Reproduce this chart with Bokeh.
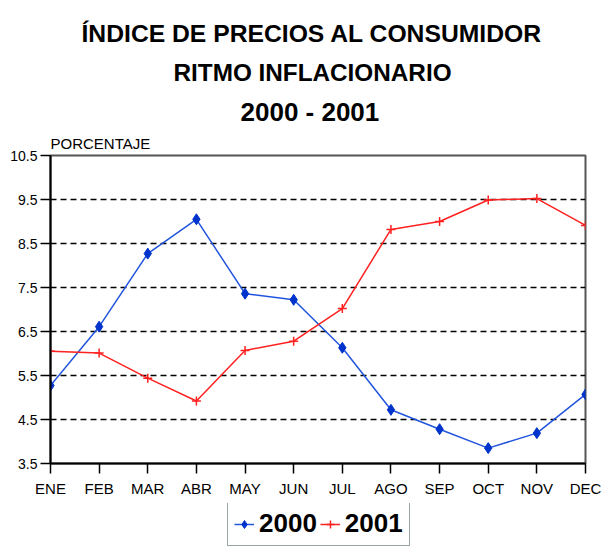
from bokeh.plotting import figure
from bokeh.layouts import column
from bokeh.models import Range1d, FixedTicker, Legend, LegendItem, Title
from bokeh.embed import file_html
from bokeh.resources import INLINE

months = ["ENE", "FEB", "MAR", "ABR", "MAY", "JUN", "JUL", "AGO", "SEP", "OCT", "NOV", "DEC"]
serie_2000 = [5.27, 6.61, 8.27, 9.05, 7.36, 7.22, 6.13, 4.72, 4.28, 3.85, 4.19, 5.07]
serie_2001 = [6.05, 6.01, 5.44, 4.92, 6.07, 6.28, 7.02, 8.82, 9.00, 9.49, 9.52, 8.91]
y_ticks = [3.5, 4.5, 5.5, 6.5, 7.5, 8.5, 9.5, 10.5]
title_lines = ["ÍNDICE DE PRECIOS AL CONSUMIDOR", "RITMO INFLACIONARIO", "2000 - 2001"]
y_label = "PORCENTAJE"
series_names = ["2000", "2001"]

FONT = "Liberation Sans, Arial, sans-serif"
xs = list(range(len(months)))
blue = "#2255dd"
blue_mk = "#0033cc"
red = "#ff2020"

p = figure(width=605, height=503, output_backend="svg", toolbar_location=None,
           x_range=Range1d(0, 11), y_range=Range1d(3.5, 10.5),
           min_border_left=50, min_border_right=20, min_border_top=155, min_border_bottom=40)
p.background_fill_color = "white"
p.border_fill_color = "white"
p.outline_line_color = "#555555"
p.outline_line_width = 2

# axes
p.xaxis.ticker = FixedTicker(ticks=xs)
p.xaxis.major_label_overrides = {i: m for i, m in enumerate(months)}
p.yaxis.ticker = FixedTicker(ticks=y_ticks)
p.yaxis.major_label_overrides = {t: f"{t:.1f}" for t in y_ticks}
for ax in (p.xaxis, p.yaxis):
    ax.axis_line_color = "black"
    ax.axis_line_width = 2
    ax.major_tick_line_color = "black"
    ax.major_tick_line_width = 1.5
    ax.major_tick_in = 0
    ax.major_tick_out = 10
    ax.minor_tick_line_color = None
    ax.major_label_text_color = "black"
    ax.major_label_text_font = FONT
p.xaxis.major_label_text_font_size = "15px"
p.xaxis.major_label_standoff = 6
p.yaxis.major_label_text_font_size = "14px"
p.yaxis.major_label_standoff = 3

p.xgrid.visible = False
p.ygrid.ticker = FixedTicker(ticks=y_ticks[1:-1])
p.ygrid.grid_line_color = "black"
p.ygrid.grid_line_width = 1.5
p.ygrid.grid_line_dash = "6 4"

p.line(xs, serie_2000, line_color=blue, line_width=1.5)
p.scatter(xs, serie_2000, marker="diamond", size=11, fill_color=blue_mk, line_color=blue_mk)
p.line(xs, serie_2001, line_color=red, line_width=1.5)
p.scatter(xs, serie_2001, marker="cross", size=9, line_color=red, line_width=1.5)

# titles (nearest to the frame first)
p.add_layout(Title(text=y_label, align="left", text_font=FONT, text_font_size="15px",
                   text_font_style="normal", text_color="black", standoff=8), "above")
title_cfg = [("26px", 190, 4), ("24.3px", 123, 14), ("24.7px", 31, 5)]  # line3, line2, line1
for txt, (fs, off, so) in zip(reversed(title_lines), title_cfg):
    p.add_layout(Title(text=txt, align="left", offset=off, text_font=FONT, text_font_size=fs,
                       text_font_style="bold", text_color="black", standoff=so), "above")

# legend strip
q = figure(width=605, height=43, output_backend="svg", toolbar_location=None,
           x_range=Range1d(100, 101), y_range=Range1d(100, 101),
           x_axis_location=None, y_axis_location=None,
           min_border_left=0, min_border_right=0, min_border_top=0, min_border_bottom=0)
q.grid.visible = False
q.outline_line_color = None
ql1 = q.line(xs, serie_2000, line_color=blue, line_width=1.5)
qm1 = q.scatter(xs, serie_2000, marker="diamond", size=11, fill_color=blue_mk, line_color=blue_mk)
ql2 = q.line(xs, serie_2001, line_color=red, line_width=1.5)
qm2 = q.scatter(xs, serie_2001, marker="cross", size=9, line_color=red, line_width=1.5)

legend = Legend(items=[LegendItem(label=series_names[0], renderers=[ql1, qm1]),
                       LegendItem(label=series_names[1], renderers=[ql2, qm2])],
                location=(177, 0), orientation="horizontal",
                label_text_font=FONT, label_text_font_size="26px", label_text_font_style="bold",
                label_text_color="black", glyph_width=20, glyph_height=30, label_height=30,
                label_standoff=5, spacing=3, padding=6, margin=0,
                border_line_color="#2f4f4f", border_line_width=1.5,
                background_fill_color="white", background_fill_alpha=1.0)
q.add_layout(legend, "center")

open("out.html", "w").write(file_html(column(p, q, spacing=0), INLINE))
